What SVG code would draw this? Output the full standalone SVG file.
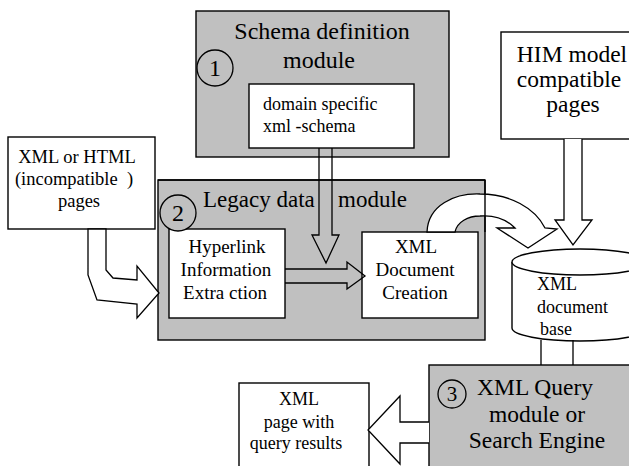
<svg xmlns="http://www.w3.org/2000/svg" width="629" height="466" viewBox="0 0 629 466" font-family="'Liberation Serif', 'Times New Roman', Times, serif">
<style>
.box{fill:#ffffff;stroke:#000;stroke-width:1.4}
.mod{fill:#c0c0c0;stroke:#000;stroke-width:1.4}
.arr{fill:#ffffff;stroke:#000;stroke-width:1.3;stroke-linejoin:miter}
.arrn{fill:none;stroke:#000;stroke-width:1.3}
.num{fill:none;stroke:#000;stroke-width:1.3}
text{font-family:'Liberation Serif','Times New Roman',Times,serif;fill:#000}
.big{font-size:24px}
.him{font-size:23.5px}
.mid{font-size:18px}
.box19{font-size:19px}
.c{text-anchor:middle}
</style>
<rect width="629" height="466" fill="#ffffff"/>

<g id="schema-module">
<rect class="mod" x="196" y="11" width="253" height="146"/>
<circle class="num" cx="215" cy="68" r="18"/>
<text class="big c" x="215" y="76">1</text>
<text class="big c" x="322" y="39">Schema definition</text>
<text class="big c" x="319" y="68">module</text>
<rect class="box" x="249" y="84" width="165" height="64"/>
<text class="mid" x="263" y="110">domain specific</text>
<text class="mid" x="263" y="132">xml -schema</text>
</g>

<g id="legacy-module">
<rect class="mod" x="158" y="180" width="327" height="160"/>
<text style="font-size:23px" y="207"><tspan x="203">Legacy data</tspan><tspan x="338">module</tspan></text>
</g>

<g id="hyperlink">
<rect class="box" x="169" y="229" width="116" height="89"/>
<text class="box19 c" x="227" y="253">Hyperlink</text>
<text class="box19 c" x="226" y="276">Information</text>
<text class="box19 c" x="225" y="299">Extra ction</text>
</g>

<g id="xml-creation">
<rect class="box" x="362" y="232" width="116" height="86"/>
<text class="box19 c" x="416" y="253">XML</text>
<text class="box19 c" x="415" y="276">Document</text>
<text class="box19 c" x="415" y="299">Creation</text>
</g>

<g id="legacy-number">
<circle cx="178" cy="213" r="18" fill="#c0c0c0" stroke="#000" stroke-width="1.3"/>
<text class="big c" x="178" y="221">2</text>
</g>

<g id="incompatible-pages">
<rect class="box" x="8" y="137" width="147" height="92"/>
<text class="c" style="font-size:18.5px" x="77" y="163">XML or HTML</text>
<text class="c" style="font-size:18.5px" x="74" y="185" xml:space="preserve">(incompatible  )</text>
<text class="c" style="font-size:18.5px" x="79" y="207">pages</text>
</g>

<g id="him-pages">
<rect class="box" x="501" y="32" width="140" height="107"/>
<text class="him c" x="572" y="62">HIM model</text>
<text class="him c" x="569" y="87">compatible</text>
<text class="him c" x="573" y="112">pages</text>
</g>

<g id="xml-base">
<path class="box" d="M512,262 L512,328 A68,13 0 0 0 648,328 L648,262"/>
<ellipse class="box" cx="580" cy="262" rx="68" ry="13"/>
<text class="mid" x="537" y="290">XML</text>
<text class="mid" x="537" y="313">document</text>
<text class="mid" x="540" y="335">base</text>
</g>

<g id="query-module">
<rect class="mod" x="429" y="365" width="215" height="110"/>
<circle class="num" cx="452" cy="394" r="14"/>
<text class="c" style="font-size:21px" x="452" y="401">3</text>
<text class="c" style="font-size:23.5px" x="535" y="395">XML Query</text>
<text class="c" style="font-size:23.5px" x="537" y="422">module or</text>
<text class="c" style="font-size:23.5px" x="537" y="448">Search Engine</text>
</g>

<g id="query-results">
<rect class="box" x="239" y="383" width="130" height="95"/>
<text class="mid c" x="299" y="405">XML</text>
<text class="mid c" x="299" y="428">page with</text>
<text class="mid c" x="296" y="449">query results</text>
</g>

<g id="connectors">
<path class="arrn" d="M319,148 L319,235 L312,235 L326,263 L339,235 L332,235 L332,148"/>
<line x1="158" y1="180" x2="485" y2="180" stroke="#000" stroke-width="1.4"/>
<path class="arrn" d="M285,269 L347,269 L347,262 L365,276 L347,289 L347,283 L285,283"/>
<path class="arr" d="M88,229 L88,275 L97,300 L137,304 L137,318 L159,293 L137,266 L137,280 L113,278 L106,270 L106,229 Z"/>
<path class="arr" d="M427,232 C428,205 455,193 480,194 C510,194 535,208 545,228 L557,229 L528,248 L497,228 L515,228 C505,218 492,215 480,216 C468,216 457,222 455,232 Z"/>
<line x1="485" y1="180" x2="485" y2="232" stroke="#000" stroke-width="1.4"/>
<path class="arr" d="M564,139 L564,220 L555,220 L573,245 L592,220 L582,220 L582,139"/>
<path class="arrn" d="M541,340 L541,365 M573,340 L573,365"/>
<path class="arr" d="M429,422 L400,422 L400,396 L368,430 L400,464 L400,443 L429,443"/>
</g>
</svg>
